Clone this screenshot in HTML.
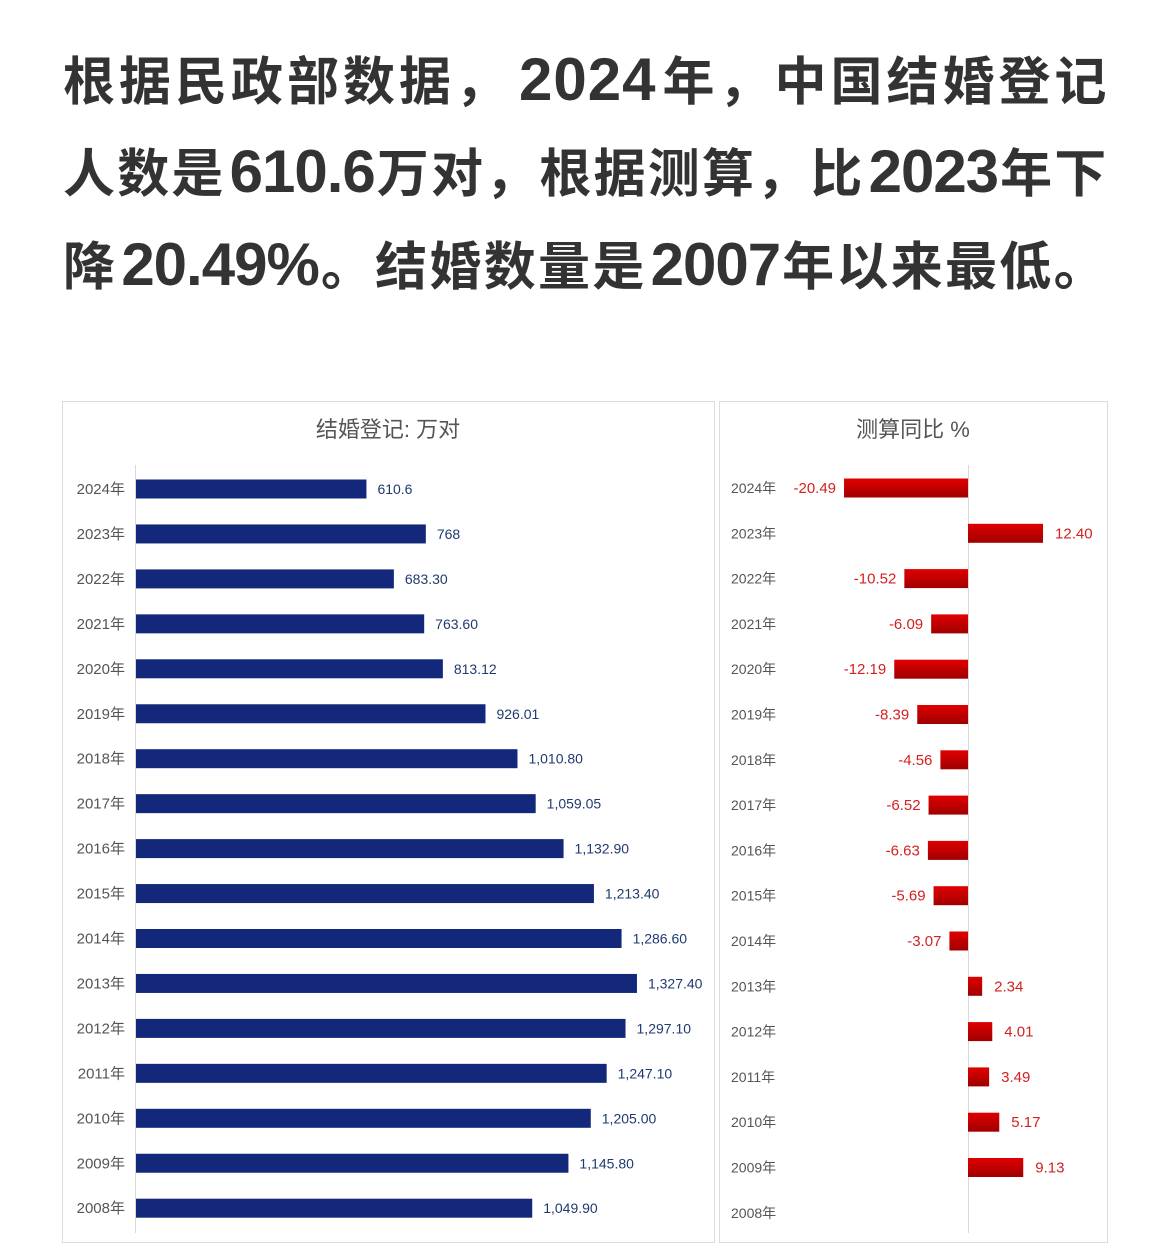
<!DOCTYPE html>
<html><head><meta charset="utf-8">
<style>
body{margin:0;background:#fff;width:1170px;height:1233px;overflow:hidden;position:relative;font-family:"Liberation Sans","Noto Sans CJK SC",sans-serif;}
.hl{position:absolute;left:63px;font-size:52px;font-weight:bold;color:#333;white-space:nowrap;line-height:60px;letter-spacing:3px;}
.hl .d{font-size:60px;letter-spacing:1px;margin:0 6px 0 8px;}
.hl .e{font-size:60px;letter-spacing:-1px;margin:0 2px 0 4px;}
.panel{position:absolute;border:1px solid #dcdcdc;background:#fff;}
</style></head><body>
<div class="hl" style="top:50px;letter-spacing:4px">根据民政部数据，<span class="d">2024</span>年，中国结婚登记</div>
<div class="hl" style="top:142px;letter-spacing:2.2px">人数是<span class="e">610.6</span>万对，根据测算，比<span class="e">2023</span>年下</div>
<div class="hl" style="top:235px;letter-spacing:2.3px">降<span class="e">20.49%</span>。结婚数量是<span class="e">2007</span>年以来最低。</div>
<div class="panel" style="left:62px;top:401px;width:651px;height:840px"></div>
<div class="panel" style="left:719px;top:401px;width:387px;height:840px"></div>
<svg id="chart" width="1170" height="1233" style="position:absolute;left:0;top:0">
<defs>
<linearGradient id="rg" x1="0" y1="0" x2="0" y2="1"><stop offset="0" stop-color="#e00000"/><stop offset="1" stop-color="#a00000"/></linearGradient>
</defs>
<text x="388" y="437" text-anchor="middle" font-size="22" fill="#555">结婚登记: 万对</text>
<text x="913" y="437" text-anchor="middle" font-size="22" fill="#555">测算同比 %</text>
</svg>
<script>
const years=["2024年","2023年","2022年","2021年","2020年","2019年","2018年","2017年","2016年","2015年","2014年","2013年","2012年","2011年","2010年","2009年","2008年"];
const marriages=[610.6,768,683.30,763.60,813.12,926.01,1010.80,1059.05,1132.90,1213.40,1286.60,1327.40,1297.10,1247.10,1205.00,1145.80,1049.90];
const marriageLabels=["610.6","768","683.30","763.60","813.12","926.01","1,010.80","1,059.05","1,132.90","1,213.40","1,286.60","1,327.40","1,297.10","1,247.10","1,205.00","1,145.80","1,049.90"];
const yoy=[-20.49,12.40,-10.52,-6.09,-12.19,-8.39,-4.56,-6.52,-6.63,-5.69,-3.07,2.34,4.01,3.49,5.17,9.13,null];
const yoyLabels=["-20.49","12.40","-10.52","-6.09","-12.19","-8.39","-4.56","-6.52","-6.63","-5.69","-3.07","2.34","4.01","3.49","5.17","9.13",""];
const svg=document.getElementById('chart');
const NS="http://www.w3.org/2000/svg";
function mk(t,a){const e=document.createElementNS(NS,t);for(const k in a)e.setAttribute(k,a[k]);svg.appendChild(e);return e;}
const xL=v=>136+v*0.3774;
const yL=i=>489+i*44.95;
const xR=v=>968+v*6.05;
const yR=i=>488+i*45.3;
let ax=mk('line',{x1:135.5,x2:135.5,y1:465,y2:1233,stroke:'#d9d9d9'});


let ax2=mk('line',{x1:968.5,x2:968.5,y1:465,y2:1233,stroke:'#d9d9d9'});


years.forEach((yr,i)=>{
  let t=mk('text',{x:125,y:yL(i)+5,'text-anchor':'end','font-size':15,fill:'#555'});t.textContent=yr;
  
  
  let b=mk('rect',{x:136,y:yL(i)-9.5,width:xL(marriages[i])-136,height:19,fill:'#13287a'});
  
  
  let v=mk('text',{x:xL(marriages[i])+11,y:yL(i)+5,'font-size':14,fill:'#1f3a6e'});v.textContent=marriageLabels[i];
  
  
  let t2=mk('text',{x:731,y:yR(i)+5,'font-size':14,fill:'#555'});t2.textContent=yr;
  
  
  const val=yoy[i];
  if(val!==null){
    const x0=Math.min(xR(0),xR(val)),w=Math.abs(xR(val)-xR(0));
    let r=mk('rect',{x:x0,y:yR(i)-9.5,width:w,height:19,fill:'url(#rg)'});
    
    
    let l=mk('text',{x:val<0?x0-8:x0+w+12,y:yR(i)+5,'text-anchor':val<0?'end':'start','font-size':15,fill:'#d42020'});l.textContent=yoyLabels[i];
    
    
  }
});
</script>
</body></html>
